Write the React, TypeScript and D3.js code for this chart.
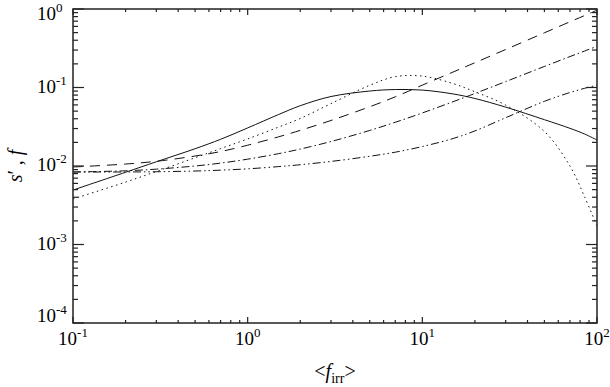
import React from 'react';
import * as d3 from 'd3';

// sampled x positions (<f_irr>)
const xVals = [0.1, 0.2, 0.3, 0.5, 0.7, 1, 1.5, 2, 3, 5, 7, 10, 15, 20, 30, 50, 70, 85, 100];

// curves
const solidVals = [0.00494, 0.00832, 0.01132, 0.0166, 0.02188, 0.03055, 0.04519, 0.05861, 0.07674, 0.09016, 0.09419, 0.09268, 0.08279, 0.07244, 0.05623, 0.0389, 0.0302, 0.02553, 0.02143];
const dottedVals = [0.0038, 0.00624, 0.00851, 0.01274, 0.01667, 0.02213, 0.03126, 0.04027, 0.06237, 0.1067, 0.1374, 0.1396, 0.1122, 0.0881, 0.0596, 0.0275, 0.01, 0.00403, 0.00172];
const dashedVals = [0.00971, 0.01059, 0.01148, 0.0134, 0.01528, 0.01841, 0.0235, 0.02844, 0.03802, 0.05689, 0.07603, 0.1072, 0.1574, 0.207, 0.3048, 0.4977, 0.6871, 0.826, 0.9661];
const dashDotVals = [0.00839, 0.00869, 0.00912, 0.01, 0.01089, 0.01222, 0.01435, 0.01644, 0.02051, 0.02838, 0.03606, 0.04742, 0.06592, 0.08395, 0.1189, 0.1854, 0.2477, 0.2917, 0.335];
const dashDotDotVals = [0.00839, 0.00839, 0.00845, 0.00863, 0.00885, 0.0092, 0.00982, 0.01038, 0.01143, 0.0133, 0.015, 0.0177, 0.02239, 0.02799, 0.04121, 0.06668, 0.0863, 0.09772, 0.1072];

const xDecades = [-1, 0, 1, 2];
const yDecades = [0, -1, -2, -3, -4];

const W = 610;
const H = 387;
const left = 73, right = 597, top = 9, bottom = 323;

export default function App() {
  const x = d3.scaleLog().domain([0.1, 100]).range([left, right]);
  const y = d3.scaleLog().domain([1e-4, 1]).range([bottom, top]);

  const series = [
    { vals: solidVals, dash: null },
    { vals: dottedVals, dash: '1.5,3.5' },
    { vals: dashedVals, dash: '10,7' },
    { vals: dashDotVals, dash: '8,3,1.5,3' },
    { vals: dashDotDotVals, dash: '8,3,1.5,3,1.5,3' },
  ];

  const line = d3.line<number>()
    .x((d, i) => x(xVals[i]))
    .y(d => y(d))
    .curve(d3.curveCatmullRom.alpha(0.5));

  // minor ticks 2..9 in each decade
  const xMinor: number[] = [];
  for (let e = -1; e < 2; e++) for (let m = 2; m <= 9; m++) xMinor.push(m * Math.pow(10, e));
  const yMinor: number[] = [];
  for (let e = -4; e < 0; e++) for (let m = 2; m <= 9; m++) yMinor.push(m * Math.pow(10, e));

  const font = '"Liberation Serif", "DejaVu Serif", serif';
  const axisCol = '#222';

  return (
    <svg width={W} height={H} style={{ position: 'absolute', left: 0, top: 0, fontFamily: font }}>
      <rect x={0} y={0} width={W} height={H} fill="#fff" />
      <g fill="none" stroke="#111" strokeWidth={1}>
        {series.map((s, i) => (
          <path key={i} d={line(s.vals) || ''} strokeDasharray={s.dash || undefined} />
        ))}
      </g>
      <g stroke={axisCol} strokeWidth={1.2}>
        {xMinor.map((v, i) => (
          <g key={'xm' + i}>
            <line x1={x(v)} x2={x(v)} y1={bottom} y2={bottom - 3} />
            <line x1={x(v)} x2={x(v)} y1={top} y2={top + 3} />
          </g>
        ))}
        {xDecades.map(e => (
          <g key={'xM' + e}>
            <line x1={x(Math.pow(10, e))} x2={x(Math.pow(10, e))} y1={bottom} y2={bottom - 6} />
            <line x1={x(Math.pow(10, e))} x2={x(Math.pow(10, e))} y1={top} y2={top + 6} />
          </g>
        ))}
        {yMinor.map((v, i) => (
          <g key={'ym' + i}>
            <line x1={left} x2={left + 5} y1={y(v)} y2={y(v)} />
            <line x1={right} x2={right - 5} y1={y(v)} y2={y(v)} />
          </g>
        ))}
        {yDecades.map(e => (
          <g key={'yM' + e}>
            <line x1={left} x2={left + 11} y1={y(Math.pow(10, e))} y2={y(Math.pow(10, e))} />
            <line x1={right} x2={right - 11} y1={y(Math.pow(10, e))} y2={y(Math.pow(10, e))} />
          </g>
        ))}
      </g>
      <rect x={left} y={top} width={right - left} height={bottom - top} fill="none" stroke={axisCol} strokeWidth={1.5} />

      {xDecades.map(e => (
        <text key={'xl' + e} x={x(Math.pow(10, e))} y={345} textAnchor="middle" fontSize={19} fill="#000">
          10<tspan fontSize={13} dy={-8}>{String(e)}</tspan>
        </text>
      ))}
      {yDecades.map(e => {
        const yy = Math.min(Math.max(y(Math.pow(10, e)) + 5, 20), 322);
        return (
          <text key={'yl' + e} x={37} y={yy} fontSize={19} fill="#000">
            10<tspan fontSize={13} dy={-8}>{String(e)}</tspan>
          </text>
        );
      })}

      <text x={(left + right) / 2} y={378} textAnchor="middle" fontSize={20} fill="#000">
        &lt;<tspan fontStyle="italic">f</tspan><tspan fontSize={14} dy={5}>irr</tspan><tspan dy={-5}>&gt;</tspan>
      </text>
      <text transform={`translate(22,${(top + bottom) / 2}) rotate(-90)`} textAnchor="middle" fontSize={20} fill="#000">
        <tspan fontStyle="italic">s</tspan>′ , <tspan fontStyle="italic">f</tspan>
      </text>
    </svg>
  );
}
